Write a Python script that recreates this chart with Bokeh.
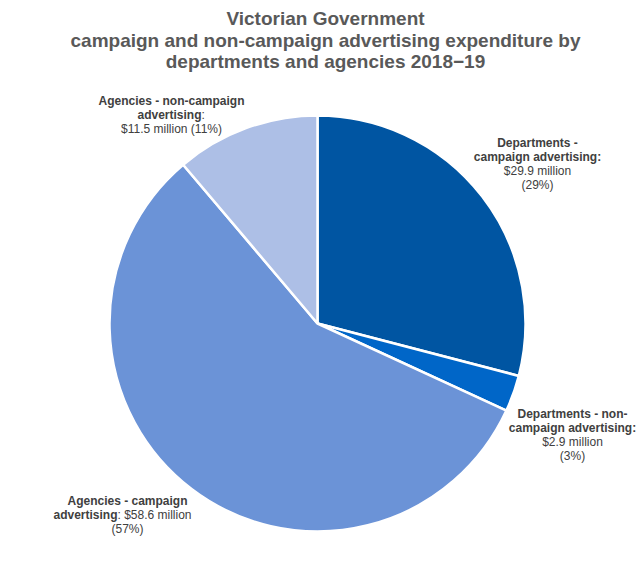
import math
from bokeh.plotting import figure
from bokeh.models import Range1d, ColumnDataSource
from bokeh.core.properties import value
from bokeh.embed import file_html
from bokeh.resources import INLINE

categories = ["Departments - campaign advertising", "Departments - non-campaign advertising",
              "Agencies - campaign advertising", "Agencies - non-campaign advertising"]
values = [29.9, 2.9, 58.6, 11.5]
percent_labels = ["29%", "3%", "57%", "11%"]
colors = ["#0055A2", "#0066C8", "#6B93D7", "#ADBFE6"]

W, H = 640, 564
p = figure(width=W, height=H, output_backend="svg", toolbar_location=None,
           x_range=Range1d(0, W), y_range=Range1d(0, H), min_border=0)
p.axis.visible = False
p.grid.visible = False
p.outline_line_color = None
p.background_fill_color = "white"

def Y(yimg):
    return H - yimg
def X(ximg):
    return ximg

total = sum(values)
starts, ends = [], []
cum = 0.0
for v in values:
    starts.append(math.pi / 2 - cum / total * 2 * math.pi)
    cum += v
    ends.append(math.pi / 2 - cum / total * 2 * math.pi)

src = ColumnDataSource(dict(start=starts, end=ends, color=colors))
p.wedge(x=X(317), y=Y(323), radius=208, start_angle="start", end_angle="end",
        direction="clock", fill_color="color", line_color="white", line_width=2.5, source=src)

font = value("Liberation Sans")
title_lines = ["Victorian Government",
               "campaign and non-campaign advertising expenditure by",
               "departments and agencies 2018\u221219"]
title_y = [18, 39.5, 60.5]
for t, ty in zip(title_lines, title_y):
    p.text(x=[X(325)], y=[Y(ty)], text=[t], text_font=font, text_font_size="19px",
           text_font_style="bold", text_color="#595959", text_align="center", text_baseline="middle")

def txt(x, y, t, bold, align="center"):
    p.text(x=[X(x)], y=[Y(y)], text=[t], text_font=font, text_font_size="12px",
           text_font_style="bold" if bold else "normal", text_color="#404040",
           text_align=align, text_baseline="middle")

def label(cx, y0, lines):
    for i, (t, bold) in enumerate(lines):
        txt(cx, y0 + 14 * i, t, bold)

# Agencies non-campaign
txt(171, 100, "Agencies - non-campaign", True)
txt(201, 114, "advertising", True, "right")
txt(201, 114, ":", False, "left")
txt(171, 128, "$%.1f million (%s)" % (values[3], percent_labels[3]), False)

label(537, 142, [("Departments -", True), ("campaign advertising:", True),
                 ("$%.1f million" % values[0], False), ("(%s)" % percent_labels[0], False)])
label(572, 413, [("Departments - non-", True), ("campaign advertising:", True),
                 ("$%.1f million" % values[1], False), ("(%s)" % percent_labels[1], False)])

# Agencies campaign: mixed line
txt(127, 500, "Agencies - campaign", True)
txt(117, 514, "advertising", True, "right")
txt(117, 514, ": $%.1f million" % values[2], False, "left")
txt(127, 528, "(%s)" % percent_labels[2], False)

open("out.html", "w").write(file_html(p, INLINE))
